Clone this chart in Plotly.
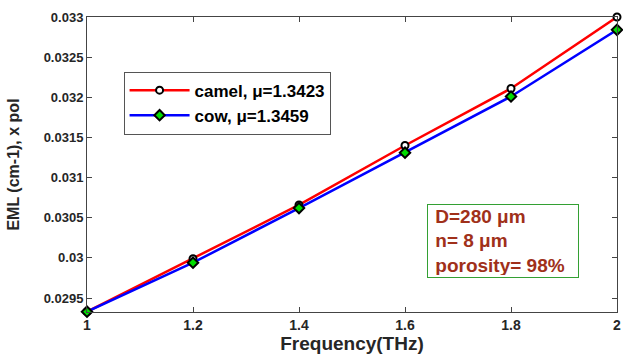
import plotly.graph_objects as go

freq = [1.0, 1.2, 1.4, 1.6, 1.8, 2.0]
camel = [0.02933, 0.02999, 0.03066, 0.03140, 0.03211, 0.03300]
cow = [0.02933, 0.02994, 0.03062, 0.03131, 0.03201, 0.03284]
yticks = [0.0295, 0.03, 0.0305, 0.031, 0.0315, 0.032, 0.0325, 0.033]
ytext = ["0.0295", "0.03", "0.0305", "0.031", "0.0315", "0.032", "0.0325", "0.033"]
xticks = [1, 1.2, 1.4, 1.6, 1.8, 2]
xtext = ["1", "1.2", "1.4", "1.6", "1.8", "2"]

fnt = "Liberation Sans, Arial, sans-serif"

fig = go.Figure()
fig.add_trace(go.Scatter(
    x=freq, y=camel, mode="lines+markers", name="<b>camel, \u03bc=1.3423</b>",
    line=dict(color="#ff0000", width=2.5),
    marker=dict(symbol="circle", size=7, color="white", line=dict(color="black", width=2)),
    cliponaxis=False,
))
fig.add_trace(go.Scatter(
    x=freq, y=cow, mode="lines+markers", name="<b>cow, \u03bc=1.3459</b>",
    line=dict(color="#0000ff", width=2.5),
    marker=dict(symbol="diamond", size=8, color="#00dd00", line=dict(color="black", width=2)),
    cliponaxis=False,
))

axis_common = dict(
    showgrid=False, zeroline=False, showline=True, linecolor="#444444", linewidth=1,
    mirror="ticks", ticks="inside", ticklen=5, tickcolor="#444444",
    ticklabeloverflow="allow",
)

fig.update_layout(
    width=623, height=363,
    margin=dict(l=87, r=2, t=17, b=51),
    paper_bgcolor="white", plot_bgcolor="white",
    font=dict(family=fnt, color="#262626"),
    xaxis=dict(range=[1, 2], tickvals=xticks, ticktext=["<b>%s</b>" % t for t in xtext],
               tickfont=dict(family=fnt, size=14, color="#262626"),
               title=dict(text="<b>Frequency(THz)</b>", font=dict(size=19, family=fnt), standoff=4),
               **axis_common),
    yaxis=dict(range=[0.029326, 0.033], tickvals=yticks, ticktext=["<b>%s</b>" % t for t in ytext],
               tickfont=dict(family=fnt, size=13, color="#262626"),
               title=dict(text="<b>EML (cm-1), x pol</b>", font=dict(size=16, family=fnt), standoff=20),
               **axis_common),
    legend=dict(x=0.069, y=0.815, xanchor="left", yanchor="top",
                bgcolor="white", bordercolor="#555555", borderwidth=1,
                font=dict(family=fnt, size=17, color="black"),
                tracegroupgap=0, itemwidth=60),
    showlegend=True,
)

fig.add_annotation(
    xref="paper", yref="paper", x=0.641, y=0.366, xanchor="left", yanchor="top",
    text="<b>\u00a0D=280 \u03bcm<br>\u00a0n= 8 \u03bcm<br>\u00a0porosity= 98%</b>",
    showarrow=False, align="left", valign="middle", width=146, height=68,
    font=dict(family=fnt, size=19, color="#a0301a"),
    bordercolor="#33a033", borderwidth=1, borderpad=2, bgcolor="white",
)

fig.write_html("out.html")
